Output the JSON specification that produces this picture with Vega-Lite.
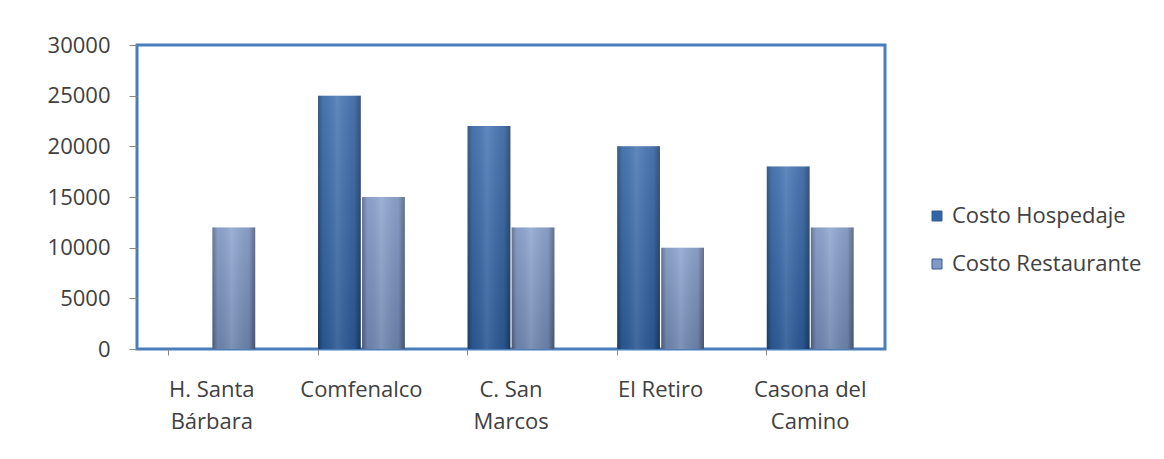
{
  "$schema": "https://vega.github.io/schema/vega-lite/v6.json",
  "width": 748,
  "height": 304,
  "autosize": {"type": "none"},
  "padding": {"left": 137, "top": 45, "right": 279, "bottom": 110},
  "background": "white",
  "config": {
    "view": {"stroke": "#4A7EBB", "strokeWidth": 3},
    "font": "Open Sans"
  },
  "data": {
    "values": [
      {"lugar": "H. Santa Bárbara", "serie": "Costo Restaurante", "costo": 12000},
      {"lugar": "Comfenalco", "serie": "Costo Hospedaje", "costo": 25000},
      {"lugar": "Comfenalco", "serie": "Costo Restaurante", "costo": 15000},
      {"lugar": "C. San Marcos", "serie": "Costo Hospedaje", "costo": 22000},
      {"lugar": "C. San Marcos", "serie": "Costo Restaurante", "costo": 12000},
      {"lugar": "El Retiro", "serie": "Costo Hospedaje", "costo": 20000},
      {"lugar": "El Retiro", "serie": "Costo Restaurante", "costo": 10000},
      {"lugar": "Casona del Camino", "serie": "Costo Hospedaje", "costo": 18000},
      {"lugar": "Casona del Camino", "serie": "Costo Restaurante", "costo": 12000}
    ]
  },
  "encoding": {
    "x": {
      "field": "lugar",
      "type": "nominal",
      "sort": ["H. Santa Bárbara", "Comfenalco", "C. San Marcos", "El Retiro", "Casona del Camino"],
      "scale": {"paddingInner": 0.42, "paddingOuter": 0.21},
      "axis": {
        "title": null,
        "labelAngle": 0,
        "domain": false,
        "bandPosition": 0,
        "tickColor": "#868686",
        "tickSize": 6,
        "labelFontSize": 22,
        "labelColor": "#404040",
        "labelPadding": 24,
        "labelLineHeight": 32,
        "labelBaseline": "top",
        "labelExpr": "datum.value == 'H. Santa Bárbara' ? ['H. Santa', 'Bárbara'] : datum.value == 'C. San Marcos' ? ['C. San', 'Marcos'] : datum.value == 'Casona del Camino' ? ['Casona del', 'Camino'] : datum.value"
      }
    },
    "xOffset": {
      "field": "serie",
      "type": "nominal",
      "sort": ["Costo Hospedaje", "Costo Restaurante"],
      "scale": {"paddingInner": 0.03}
    },
    "y": {
      "field": "costo",
      "type": "quantitative",
      "scale": {"domain": [0, 30000]},
      "axis": {
        "title": null,
        "values": [0, 5000, 10000, 15000, 20000, 25000, 30000],
        "format": "d",
        "grid": false,
        "domain": false,
        "tickColor": "#868686",
        "tickSize": 8,
        "labelFontSize": 22,
        "labelColor": "#404040",
        "labelPadding": 19
      }
    }
  },
  "layer": [
    {
      "mark": {"type": "bar"},
      "encoding": {
        "color": {
          "field": "serie",
          "type": "nominal",
          "sort": ["Costo Hospedaje", "Costo Restaurante"],
          "scale": {"range": ["#3166AB", "#8099C9"]},
          "legend": {
            "title": null,
            "orient": "none",
            "legendX": 789,
            "legendY": 160,
            "symbolType": "square",
            "symbolSize": 100,
            "symbolStrokeColor": "#3A5A8A",
            "symbolStrokeWidth": 1,
            "labelFontSize": 22,
            "labelLimit": 400,
            "labelColor": "#404040",
            "labelOffset": 4,
            "rowPadding": 26
          }
        }
      }
    },
    {
      "mark": {
        "type": "bar",
        "color": {
          "gradient": "linear",
          "x1": 0, "y1": 0, "x2": 1, "y2": 0,
          "stops": [
            {"offset": 0, "color": "rgba(0,0,0,0.35)"},
            {"offset": 0.12, "color": "rgba(0,0,0,0.05)"},
            {"offset": 0.45, "color": "rgba(255,255,255,0.12)"},
            {"offset": 0.85, "color": "rgba(0,0,0,0.08)"},
            {"offset": 1, "color": "rgba(0,0,0,0.4)"}
          ]
        }
      }
    },
    {
      "mark": {
        "type": "bar",
        "color": {
          "gradient": "linear",
          "x1": 0, "y1": 0, "x2": 0, "y2": 1,
          "stops": [
            {"offset": 0, "color": "rgba(255,255,255,0.12)"},
            {"offset": 1, "color": "rgba(0,0,0,0.12)"}
          ]
        }
      }
    }
  ]
}
